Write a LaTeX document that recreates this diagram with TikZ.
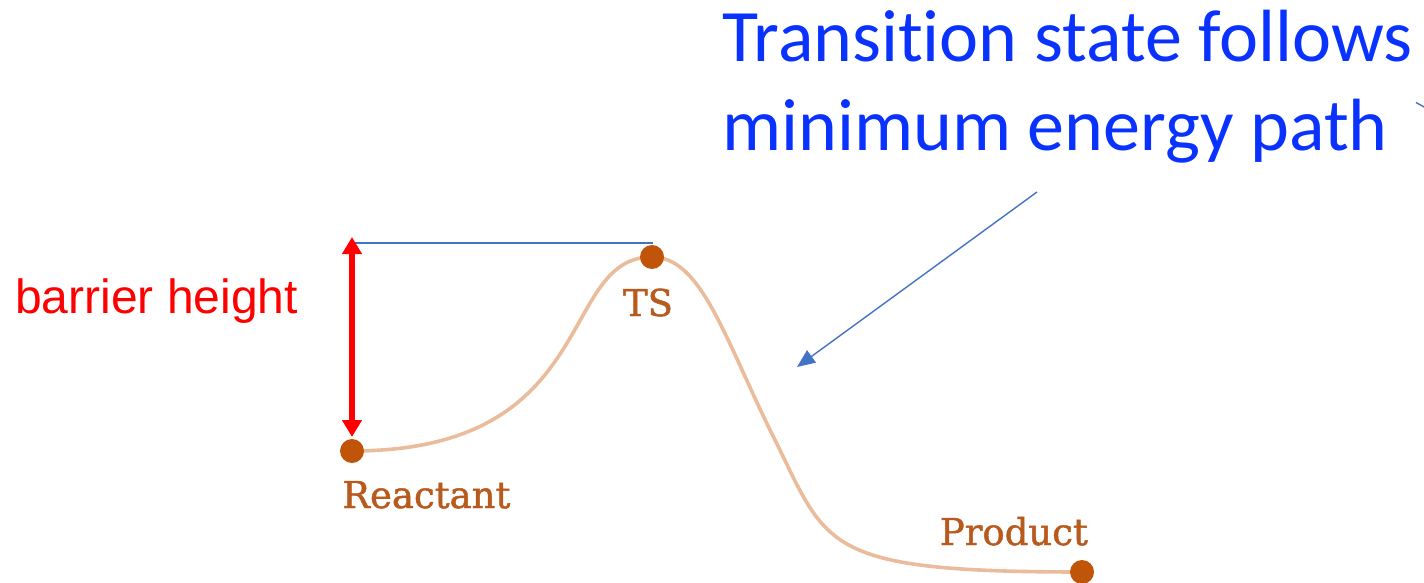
\documentclass[tikz,border=0pt]{standalone}
\usepackage{fontspec}
\usetikzlibrary{arrows.meta}
\newfontfamily\titlefont[Ligatures={NoCommon,NoRare,NoContextual}]{Carlito}
\newfontfamily\armfont{Liberation Sans}
\newfontfamily\labfont[FakeBold=1.3]{DejaVu Serif}
\definecolor{titleblue}{RGB}{10,50,255}
\definecolor{lineblue}{RGB}{68,114,196}
\definecolor{curveor}{RGB}{234,188,155}
\definecolor{dotor}{RGB}{192,85,10}
\definecolor{labor}{RGB}{184,90,30}
\definecolor{barred}{RGB}{255,0,0}
\begin{document}
\begin{tikzpicture}[x=1pt,y=-1pt,
  titletext/.style={inner sep=0pt, anchor=base west, text=titleblue, font=\titlefont\fontsize{74}{88}\selectfont},
  statelabel/.style={inner sep=0pt, text=labor, font=\labfont\fontsize{37}{42}\selectfont},
  statedot/.style={circle, fill=dotor, minimum size=24pt, inner sep=0pt},
  energycurve/.style={draw=curveor, line width=3.6pt},
  pointer/.style={draw=lineblue, line width=1.4pt, -{Triangle[length=18pt,width=15pt]}},
  guide/.style={draw=lineblue, line width=1.4pt},
  barrier/.style={draw=barred, line width=5.5pt, {Triangle[length=17pt,width=19pt]}-{Triangle[length=17pt,width=19pt]}}
]
\useasboundingbox (0,0) rectangle (1424,583);
\clip (0,0) rectangle (1424,583);

% energy curve
\coordinate (R) at (352,451);
\coordinate (T) at (652,257);
\coordinate (M) at (775,440);
\coordinate (P) at (1082,572);
\path[energycurve] (R) .. controls (602,451) and (557,257) .. (T)
   .. controls (702,257) and (725,340) .. (M)
   .. controls (828,547) and (822,572) .. (P);

% state dots
\node[statedot] (rdot) at (R) {};
\node[statedot] (tsdot) at (T) {};
\node[statedot] (pdot) at (P) {};

% state labels
\node[statelabel, anchor=base west] (rlab) at (342,508) {Reactant};
\node[statelabel, anchor=base] (tslab) at (648,316) {TS};
\node[statelabel, anchor=base east] (plab) at (1088,545) {Product};

% barrier height
\coordinate (btop) at (352,237);
\coordinate (bbot) at (352,437);
\coordinate (gl) at (352,243);
\coordinate (gr) at (653,243);
\path[guide] (gl) -- (gr);
\path[barrier] (bbot) -- (btop);
\node[inner sep=0pt, anchor=base west, text=barred, font=\armfont\fontsize{48}{55}\selectfont] (blab) at (15,313) {barrier height};

% title
\node[titletext] (t1) at (722,62) {Transition state follows};
\node[titletext] (t2) at (722,150) {minimum energy path};

% pointer arrow
\coordinate (as) at (1037,192);
\coordinate (ae) at (797,367);
\path[pointer] (as) -- (ae);

% stray line at right edge
\coordinate (s1) at (1416,102.5);
\coordinate (s2) at (1426,108);
\path[guide] (s1) -- (s2);
\end{tikzpicture}
\end{document}
